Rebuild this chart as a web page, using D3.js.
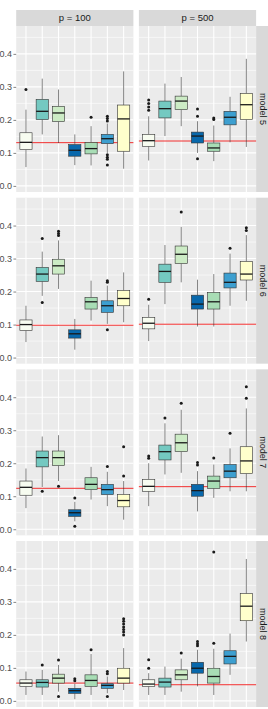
<!DOCTYPE html>
<html>
<head>
<meta charset="utf-8">
<script src="https://cdn.jsdelivr.net/npm/d3@7"></script>
<style>
  html, body { margin: 0; padding: 0; background: #fff; }
  svg { display: block; font-family: "Liberation Sans", Arial, sans-serif; }
</style>
</head>
<body>
<svg id="chart" width="268" height="709"></svg>
<script>
// ---- data (box stats: [lower whisker, q1, median, q3, upper whisker, outliers]) ----
const methods = ["m1", "m2", "m3", "m4", "m5", "m6", "m7"];
const fillColors = ["#f7fcf0", "#74c9c1", "#ccebc5", "#0868ac", "#a8ddb5", "#3d9fd0", "#ffffcc"];
const colLabels = ["p = 100", "p = 500"];
const rowLabels = ["model 5", "model 6", "model 7", "model 8"];
const yTicks = [0, 0.1, 0.2, 0.3, 0.4];

const model5_p100 = [
  [0.057, 0.110, 0.132, 0.161, 0.231, [0.292]],
  [0.156, 0.201, 0.226, 0.262, 0.325, []],
  [0.130, 0.195, 0.221, 0.241, 0.292, []],
  [0.063, 0.090, 0.108, 0.125, 0.156, []],
  [0.062, 0.097, 0.113, 0.132, 0.181, [0.208]],
  [0.100, 0.128, 0.143, 0.156, 0.189, [0.211, 0.204, 0.197, 0.094, 0.087, 0.081, 0.063]],
  [0.052, 0.105, 0.203, 0.245, 0.347, []]
];
const model5_p500 = [
  [0.077, 0.120, 0.137, 0.156, 0.211, [0.260, 0.250, 0.239, 0.229]],
  [0.151, 0.206, 0.234, 0.257, 0.310, []],
  [0.181, 0.231, 0.257, 0.272, 0.330, []],
  [0.100, 0.130, 0.151, 0.163, 0.196, [0.233, 0.211, 0.082]],
  [0.075, 0.105, 0.115, 0.130, 0.183, [0.206, 0.201]],
  [0.132, 0.185, 0.208, 0.226, 0.270, []],
  [0.118, 0.201, 0.246, 0.280, 0.385, []]
];
const model6_p100 = [
  [0.047, 0.082, 0.100, 0.114, 0.157, []],
  [0.187, 0.231, 0.253, 0.273, 0.321, [0.361, 0.167]],
  [0.208, 0.253, 0.278, 0.298, 0.355, [0.383, 0.376, 0.370]],
  [0.024, 0.059, 0.072, 0.084, 0.117, []],
  [0.112, 0.147, 0.169, 0.182, 0.233, []],
  [0.102, 0.137, 0.157, 0.172, 0.218, [0.233, 0.228, 0.084]],
  [0.107, 0.157, 0.179, 0.203, 0.258, []]
];
const model6_p500 = [
  [0.050, 0.087, 0.104, 0.122, 0.160, [0.177]],
  [0.162, 0.228, 0.261, 0.283, 0.341, []],
  [0.228, 0.285, 0.313, 0.338, 0.396, [0.441]],
  [0.094, 0.147, 0.162, 0.189, 0.236, []],
  [0.094, 0.147, 0.169, 0.197, 0.253, []],
  [0.157, 0.211, 0.228, 0.256, 0.315, [0.331]],
  [0.172, 0.235, 0.253, 0.291, 0.371, [0.393, 0.385]]
];
const model7_p100 = [
  [0.064, 0.103, 0.127, 0.146, 0.184, []],
  [0.128, 0.189, 0.217, 0.237, 0.281, [0.115]],
  [0.146, 0.193, 0.217, 0.237, 0.285, [0.130]],
  [0.024, 0.039, 0.050, 0.059, 0.083, [0.095, 0.009]],
  [0.090, 0.120, 0.136, 0.156, 0.189, []],
  [0.070, 0.105, 0.120, 0.136, 0.174, [0.190]],
  [0.029, 0.068, 0.087, 0.105, 0.146, [0.250, 0.161]]
];
const model7_p500 = [
  [0.070, 0.115, 0.130, 0.151, 0.200, [0.222, 0.215]],
  [0.166, 0.210, 0.235, 0.255, 0.321, [0.337]],
  [0.171, 0.235, 0.262, 0.288, 0.362, [0.382]],
  [0.054, 0.100, 0.117, 0.136, 0.176, [0.202, 0.195]],
  [0.095, 0.124, 0.146, 0.161, 0.196, [0.216]],
  [0.115, 0.156, 0.176, 0.196, 0.245, [0.291]],
  [0.115, 0.169, 0.207, 0.250, 0.366, [0.432, 0.397]]
];
const model8_p100 = [
  [0.018, 0.044, 0.054, 0.064, 0.089, []],
  [0.018, 0.042, 0.056, 0.064, 0.094, [0.109]],
  [0.028, 0.054, 0.069, 0.081, 0.109, [0.124, 0.013]],
  [0.005, 0.023, 0.031, 0.038, 0.052, [0.067, 0.061]],
  [0.018, 0.044, 0.062, 0.079, 0.142, [0.155]],
  [0.023, 0.038, 0.047, 0.052, 0.074, [0.089, 0.082, 0.013]],
  [0.033, 0.054, 0.069, 0.099, 0.160, [0.249, 0.241, 0.233, 0.224, 0.216, 0.209, 0.200]]
];
const model8_p500 = [
  [0.018, 0.044, 0.051, 0.064, 0.084, [0.125, 0.099]],
  [0.018, 0.042, 0.057, 0.069, 0.104, []],
  [0.028, 0.064, 0.079, 0.094, 0.128, [0.145]],
  [0.044, 0.084, 0.099, 0.117, 0.155, [0.180, 0.173, 0.167]],
  [0.018, 0.054, 0.074, 0.099, 0.158, [0.451, 0.175]],
  [0.079, 0.112, 0.135, 0.152, 0.204, []],
  [0.180, 0.243, 0.287, 0.325, 0.430, []]
];
// reference (red) line per row, per column
const refValues = [
  [0.131, 0.136],
  [0.098, 0.101],
  [0.124, 0.129],
  [0.054, 0.049]
];

const panels = [
  [model5_p100, model5_p500],
  [model6_p100, model6_p500],
  [model7_p100, model7_p500],
  [model8_p100, model8_p500]
];

// ---- layout ----
const svg = d3.select("#chart");
const plotLeft = 16.2, plotTop = 26, panelW = 117.2, panelH = 166, gapX = 5.5, gapY = 5.67;
const stripH = 16, stripW = 16;

const x = d3.scalePoint().domain(methods).range([0, panelW]).padding(0.6);
const boxW = x.step() * 0.75;
const y = d3.scaleLinear().domain([-0.0185, 0.4845]).range([panelH, 0]);
const minorTicks = [0.05, 0.15, 0.25, 0.35, 0.45];

// top strips
colLabels.forEach((lab, c) => {
  const gx = plotLeft + c * (panelW + gapX);
  svg.append("rect").attr("x", gx).attr("y", plotTop - stripH).attr("width", panelW).attr("height", stripH).attr("fill", "#d9d9d9");
  svg.append("text").attr("x", gx + panelW / 2).attr("y", plotTop - stripH / 2).attr("dy", "0.35em")
    .attr("text-anchor", "middle").attr("font-size", "9.5px").attr("fill", "#1a1a1a").text(lab);
});

panels.forEach((row, r) => {
  const gy = plotTop + r * (panelH + gapY);
  // right strip
  const sx = plotLeft + 2 * panelW + gapX;
  svg.append("rect").attr("x", sx).attr("y", gy).attr("width", stripW).attr("height", panelH).attr("fill", "#d9d9d9");
  svg.append("text").attr("transform", `translate(${sx + 6.6},${gy + panelH / 2}) rotate(90)`)
    .attr("dy", "0.35em").attr("text-anchor", "middle").attr("font-size", "9px").attr("fill", "#1a1a1a")
    .text(rowLabels[r]);

  row.forEach((data, c) => {
    const gx = plotLeft + c * (panelW + gapX);
    const g = svg.append("g").attr("transform", `translate(${gx},${gy})`);
    g.append("rect").attr("width", panelW).attr("height", panelH).attr("fill", "#ebebeb");
    // minor grid
    g.selectAll(".minor").data(minorTicks.filter(t => y(t) >= 0)).enter().append("line")
      .attr("x1", 0).attr("x2", panelW).attr("y1", d => y(d)).attr("y2", d => y(d))
      .attr("stroke", "#fff").attr("stroke-width", 0.55);
    // major grid
    g.selectAll(".major").data(yTicks).enter().append("line")
      .attr("x1", 0).attr("x2", panelW).attr("y1", d => y(d)).attr("y2", d => y(d))
      .attr("stroke", "#fff").attr("stroke-width", 1.07);
    g.selectAll(".vmajor").data(methods).enter().append("line")
      .attr("x1", d => x(d)).attr("x2", d => x(d)).attr("y1", 0).attr("y2", panelH)
      .attr("stroke", "#fff").attr("stroke-width", 1.07);
    // reference line
    g.append("line").attr("x1", 0).attr("x2", panelW)
      .attr("y1", y(refValues[r][c])).attr("y2", y(refValues[r][c]))
      .attr("stroke", "#f22f2f").attr("stroke-width", 1);
    // boxes
    data.forEach((d, i) => {
      const cx = x(methods[i]);
      const [lw, q1, med, q3, uw, outs] = d;
      g.append("line").attr("x1", cx).attr("x2", cx).attr("y1", y(uw)).attr("y2", y(q3))
        .attr("stroke", "#333").attr("stroke-width", 0.6);
      g.append("line").attr("x1", cx).attr("x2", cx).attr("y1", y(q1)).attr("y2", y(lw))
        .attr("stroke", "#333").attr("stroke-width", 0.6);
      g.append("rect").attr("x", cx - boxW / 2).attr("y", y(q3)).attr("width", boxW).attr("height", y(q1) - y(q3))
        .attr("fill", fillColors[i]).attr("stroke", "#333").attr("stroke-width", 0.6);
      g.append("line").attr("x1", cx - boxW / 2).attr("x2", cx + boxW / 2).attr("y1", y(med)).attr("y2", y(med))
        .attr("stroke", "#1a1a1a").attr("stroke-width", 1.3);
      g.selectAll(null).data(outs).enter().append("circle")
        .attr("cx", cx).attr("cy", v => y(v)).attr("r", 1.5).attr("fill", "#1a1a1a");
    });
    // y axis on left column
    if (c === 0) {
      const ax = g.append("g").call(d3.axisLeft(y).tickValues(yTicks).tickSize(2.75).tickPadding(1.5).tickFormat(d3.format(".1f")));
      ax.select(".domain").remove();
      ax.selectAll(".tick line").attr("stroke", "#333").attr("stroke-width", 0.6);
      ax.selectAll(".tick text").attr("fill", "#4d4d4d").attr("font-size", "9px")
        .attr("font-family", "'Liberation Sans', Arial, sans-serif");
    }
  });
});
</script>
</body>
</html>
